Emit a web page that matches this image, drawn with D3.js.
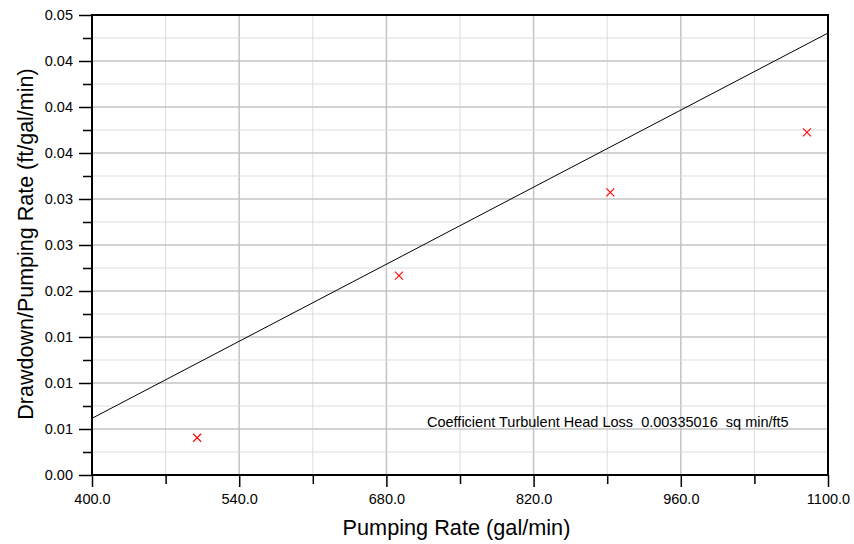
<!DOCTYPE html>
<html><head><meta charset="utf-8">
<script src="https://cdn.jsdelivr.net/npm/d3@7"></script>
<style>body{margin:0;background:#fff}svg{display:block;font-family:Arial,"Liberation Sans",sans-serif}</style>
</head><body><svg id="c" width="854" height="544"></svg>
<script>
const pumpingRate = [500, 692, 893, 1080];
const drawdownRatio = [0.00405, 0.02166, 0.03073, 0.03725];
const fitX = [400, 1100];
const fitY = [0.00616, 0.04804];
const xMajorTicks = [400, 540, 680, 820, 960, 1100];
const xMinorTicks = [470, 610, 750, 890, 1030];
const yMajorTicks = [0, 0.005, 0.01, 0.015, 0.02, 0.025, 0.03, 0.035, 0.04, 0.045, 0.05];
const yMajorLabels = ["0.00","0.01","0.01","0.01","0.02","0.03","0.03","0.04","0.04","0.04","0.05"];
const yMinorTicks = [0.0025, 0.0075, 0.0125, 0.0175, 0.0225, 0.0275, 0.0325, 0.0375, 0.0425, 0.0475];
const annotation = "Coefficient Turbulent Head Loss  0.00335016  sq min/ft5";
const xTitle = "Pumping Rate (gal/min)";
const yTitle = "Drawdown/Pumping Rate (ft/gal/min)";

const L = 92, R = 828, T = 15, B = 475;
const svg = d3.select("#c");
const x = d3.scaleLinear().domain([400, 1100]).range([L, R]);
const y = d3.scaleLinear().domain([0, 0.05]).range([B, T]);

// grid
const g = svg.append("g");
g.selectAll(".gxm").data(xMinorTicks).join("line")
  .attr("x1", d => x(d)).attr("x2", d => x(d)).attr("y1", T).attr("y2", B)
  .attr("stroke", "#dddddd").attr("stroke-width", 1);
g.selectAll(".gxM").data(xMajorTicks).join("line")
  .attr("x1", d => x(d)).attr("x2", d => x(d)).attr("y1", T).attr("y2", B)
  .attr("stroke", "#c4c4c4").attr("stroke-width", 1.5);
g.selectAll(".gym").data(yMinorTicks).join("line")
  .attr("y1", d => y(d)).attr("y2", d => y(d)).attr("x1", L).attr("x2", R)
  .attr("stroke", "#dddddd").attr("stroke-width", 1);
g.selectAll(".gyM").data(yMajorTicks).join("line")
  .attr("y1", d => y(d)).attr("y2", d => y(d)).attr("x1", L).attr("x2", R)
  .attr("stroke", "#c4c4c4").attr("stroke-width", 1.5);

// axes
svg.append("g").attr("transform", `translate(0,${B})`)
  .call(d3.axisBottom(x).tickValues(xMajorTicks).tickFormat(d3.format(".1f")).tickSize(12).tickPadding(7));
svg.append("g").attr("transform", `translate(0,${B})`)
  .call(d3.axisBottom(x).tickValues(xMinorTicks).tickFormat("").tickSize(9))
  .select(".domain").remove();
svg.append("g").attr("transform", `translate(${L},0)`)
  .call(d3.axisLeft(y).tickValues(yMajorTicks).tickFormat((d, i) => yMajorLabels[i]).tickSize(13).tickPadding(6));
svg.append("g").attr("transform", `translate(${L},0)`)
  .call(d3.axisLeft(y).tickValues(yMinorTicks).tickFormat("").tickSize(9))
  .select(".domain").remove();
svg.selectAll(".tick line").attr("stroke", "#000").attr("stroke-width", 1.5);
svg.selectAll(".tick text").style("font-size", "14.5px").attr("fill", "#000").style("font-family", "Arial, 'Liberation Sans', sans-serif");
svg.selectAll(".domain").remove();

// frame
svg.append("rect").attr("x", L).attr("y", T).attr("width", R - L).attr("height", B - T)
  .attr("fill", "none").attr("stroke", "#000").attr("stroke-width", 2);

// fit line
svg.append("defs").append("clipPath").attr("id", "pc")
  .append("rect").attr("x", L).attr("y", T).attr("width", R - L).attr("height", B - T);
svg.append("path").attr("clip-path", "url(#pc)")
  .datum(fitX.map((v, i) => [v, fitY[i]]))
  .attr("d", d3.line().x(d => x(d[0])).y(d => y(d[1])))
  .attr("fill", "none").attr("stroke", "#000").attr("stroke-width", 1);

// points
const s = 4;
const pts = svg.append("g").selectAll("g").data(pumpingRate.map((v, i) => [v, drawdownRatio[i]])).join("g")
  .attr("transform", d => `translate(${x(d[0])},${y(d[1])})`);
pts.append("path").attr("d", `M${-s},${-s}L${s},${s}M${-s},${s}L${s},${-s}`)
  .attr("stroke", "#ff0000").attr("stroke-width", 1.1).attr("fill", "none");

// annotation
svg.append("text").attr("x", 427).attr("y", 427).attr("font-size", 14.5).attr("fill", "#000")
  .style("white-space", "pre").attr("xml:space", "preserve").text(annotation);

// titles
svg.append("text").attr("x", 456.5).attr("y", 535).attr("text-anchor", "middle")
  .attr("font-size", 21.7).attr("fill", "#000").text(xTitle);
svg.append("text").attr("transform", `translate(33,244) rotate(-90)`).attr("text-anchor", "middle")
  .attr("font-size", 21.5).attr("fill", "#000").text(yTitle);
</script></body></html>
